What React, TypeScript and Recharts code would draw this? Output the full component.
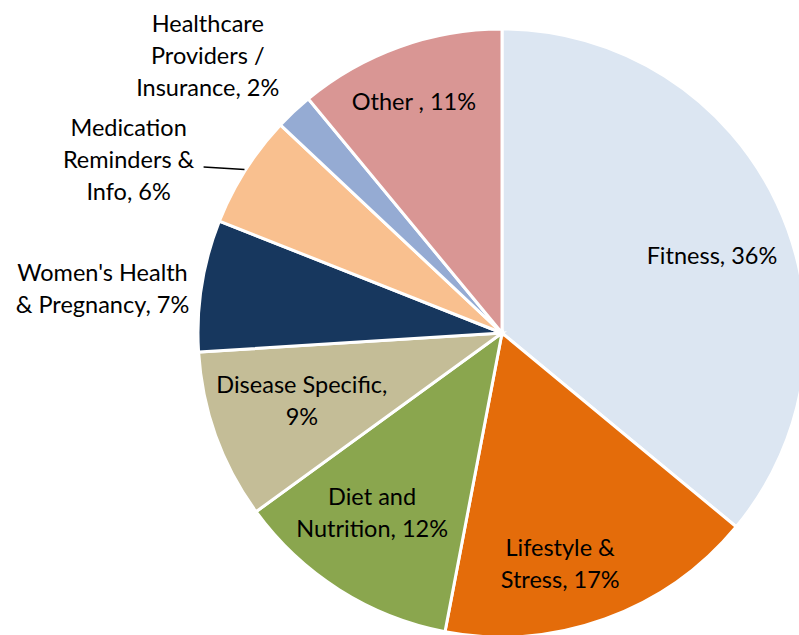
import { PieChart, Pie, Cell } from 'recharts';

const categories = [
  'Fitness',
  'Lifestyle & Stress',
  'Diet and Nutrition',
  'Disease Specific',
  "Women's Health & Pregnancy",
  'Medication Reminders & Info',
  'Healthcare Providers / Insurance',
  'Other',
];
const shares = [36, 17, 12, 9, 7, 6, 2, 11];
const labelLines = [
  ['Fitness, 36%'],
  ['Lifestyle &', 'Stress, 17%'],
  ['Diet and', 'Nutrition, 12%'],
  ['Disease Specific,', '9%'],
  ["Women's Health", '& Pregnancy, 7%'],
  ['Medication', 'Reminders &', 'Info, 6%'],
  ['Healthcare', 'Providers /', 'Insurance, 2%'],
  ['Other , 11%'],
];

const COLORS = ['#DCE6F2', '#E46C0A', '#8AA64E', '#C4BD97', '#17375E', '#F9C08F', '#95ABD3', '#D99694'];

// label placement: distance from centre and angle shift from the slice mid angle
const PLACE = [
  { r: 224, shift: -4.8 },
  { r: 237, shift: -5.6 },
  { r: 221, shift: -3.6 },
  { r: 211, shift: -1.3 },
  { r: 402, shift: 2.6 },
  { r: 412, shift: 7.4 },
  { r: 405, shift: 3.4 },
  { r: 248, shift: 1 },
];

const RAD = Math.PI / 180;
const LINE_H = 32;

const data = categories.map((name, i) => ({ name, value: shares[i] }));

function renderLabel(props: any) {
  const { cx, cy, midAngle, outerRadius, index } = props;
  const p = PLACE[index];
  const a = (midAngle + p.shift) * RAD;
  const x = cx + p.r * Math.cos(-a);
  const y = cy + p.r * Math.sin(-a);
  const lines = labelLines[index];
  let leader = null;
  if (index === 5) {
    const m = midAngle * RAD;
    const ex = cx + (outerRadius + 1) * Math.cos(-m);
    const ey = cy + (outerRadius + 1) * Math.sin(-m);
    leader = <line x1={ex} y1={ey} x2={x + 75} y2={y + 8} stroke="#000" strokeWidth={1.5} />;
  }
  return (
    <g key={`lbl-${index}`}>
      {leader}
      <text x={x} y={y} textAnchor="middle" fill="#000" fontSize={23.5} fontFamily="Lato, 'Open Sans', sans-serif">
        {lines.map((t, i) => (
          <tspan key={i} x={x} y={y + (i - (lines.length - 1) / 2) * LINE_H} dominantBaseline="central">
            {t}
          </tspan>
        ))}
      </text>
    </g>
  );
}

export default function App() {
  return (
    <div style={{ position: 'absolute', left: 0, top: 0, width: 799, height: 635, background: '#fff', overflow: 'hidden' }}>
      <PieChart width={799} height={635} margin={{ top: 0, right: 0, bottom: 0, left: 0 }}>
        <Pie
          data={data}
          dataKey="value"
          cx={502}
          cy={333}
          outerRadius={304}
          startAngle={90}
          endAngle={-270}
          stroke="#fff"
          strokeWidth={3}
          label={renderLabel}
          labelLine={false}
          isAnimationActive={false}
        >
          {data.map((d, i) => (
            <Cell key={`cell-${i}`} fill={COLORS[i]} />
          ))}
        </Pie>
      </PieChart>
    </div>
  );
}
